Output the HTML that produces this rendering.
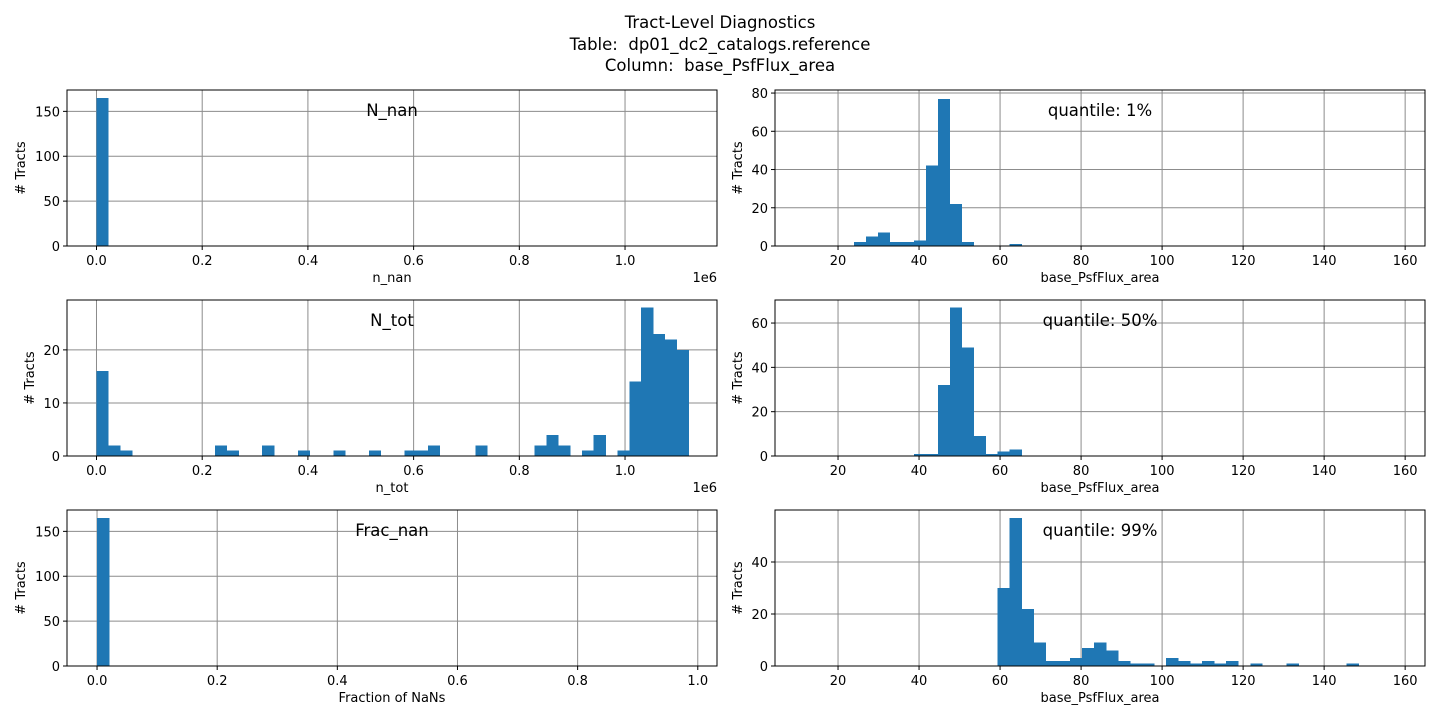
<!DOCTYPE html>
<html><head><meta charset="utf-8">
<style>
html,body{margin:0;padding:0;background:#fff;}
svg{display:block;font-family:"DejaVu Sans","Liberation Sans",sans-serif;}
</style></head>
<body>
<svg id="fig" width="1440" height="720" viewBox="0 0 1440 720">
<rect x="0" y="0" width="1440" height="720" fill="#fff"/>
<g font-size="16.5" text-anchor="middle" fill="#000">
<text x="720" y="28">Tract-Level Diagnostics</text>
<text x="720" y="50">Table:&#160; dp01_dc2_catalogs.reference</text>
<text x="720" y="71">Column:&#160; base_PsfFlux_area</text>
</g>
</svg>
<script>
// ---- data ----
const nNanCounts = [165];
const nNanBinStart = 0, nNanBinWidth = 0.0224;
const nTotCounts = [16,2,1,0,0,0,0,0,0,0,2,1,0,0,2,0,0,1,0,0,1,0,0,1,0,0,1,1,2,0,0,0,2,0,0,0,0,2,4,2,0,1,4,0,1,14,28,23,22,20];
const nTotBinStart = 0, nTotBinWidth = 0.0224;
const fracNanCounts = [165];
const fracNanBinStart = 0, fracNanBinWidth = 0.02;
const q1Counts = [2,5,7,2,2,3,42,77,22,2,0,0,0,1];
const q1BinStart = 23.9, q1BinWidth = 2.96;
const q50Counts = [1,1,32,67,49,9,1,2,3];
const q50BinStart = 38.7, q50BinWidth = 2.96;
const q99Counts = [30,57,22,9,2,2,3,7,9,6,2,1,1,0,3,2,1,2,1,2,0,1,0,0,1,0,0,0,0,1];
const q99BinStart = 59.4, q99BinWidth = 2.97;
const leftXTicks = [0,0.2,0.4,0.6,0.8,1.0];
const leftXTickLabels = ["0.0","0.2","0.4","0.6","0.8","1.0"];
const rightXTicks = [20,40,60,80,100,120,140,160];
const yTicksLeft1 = [0,50,100,150];
const yTicksLeft2 = [0,10,20];
const yTicksR1 = [0,20,40,60,80];
const yTicksR2 = [0,20,40,60];
const yTicksR3 = [0,20,40];

const NS = "http://www.w3.org/2000/svg";
const svg = document.getElementById('fig');
function mk(tag, attrs, parent){
  const e = document.createElementNS(NS, tag);
  for (const k in attrs) e.setAttribute(k, attrs[k]);
  (parent||svg).appendChild(e);
  return e;
}
function panel(cfg){
  const g = mk('g', {});
  
  
  const X = v => cfg.x + (v - cfg.xmin) / (cfg.xmax - cfg.xmin) * cfg.w;
  const Y = v => cfg.y + cfg.h - v / cfg.ymax * cfg.h;
  cfg.xticks.forEach(t => {
    const l = mk('line', {x1:X(t), x2:X(t), y1:cfg.y, y2:cfg.y+cfg.h, stroke:'#8c8c8c', 'stroke-width':1}, g);
    
    
  });
  cfg.yticks.forEach(t => {
    const l = mk('line', {x1:cfg.x, x2:cfg.x+cfg.w, y1:Y(t), y2:Y(t), stroke:'#8c8c8c', 'stroke-width':1}, g);
    
    
  });
  cfg.counts.forEach((c, i) => {
    if (!c) return;
    const x0 = X(cfg.binStart + i * cfg.binWidth), x1 = X(cfg.binStart + (i + 1) * cfg.binWidth);
    const r = mk('rect', {x:x0, y:Y(c), width:x1 - x0 + 0.4, height:Y(0) - Y(c), fill:'#1f77b4', 'shape-rendering':'crispEdges'}, g);
    
    
  });
  const f = mk('rect', {x:cfg.x, y:cfg.y, width:cfg.w, height:cfg.h, fill:'none', stroke:'#000', 'stroke-width':1}, g);
  
  
  cfg.xticks.forEach((t, i) => {
    mk('line', {x1:X(t), x2:X(t), y1:cfg.y+cfg.h, y2:cfg.y+cfg.h+4, stroke:'#000'}, g);
    const tx = mk('text', {x:X(t), y:cfg.y+cfg.h+19, 'font-size':13, 'text-anchor':'middle'}, g);
    tx.textContent = cfg.xlabels ? cfg.xlabels[i] : String(t);
    
    
  });
  cfg.yticks.forEach(t => {
    mk('line', {x1:cfg.x-4, x2:cfg.x, y1:Y(t), y2:Y(t), stroke:'#000'}, g);
    const tx = mk('text', {x:cfg.x-7, y:Y(t)+5, 'font-size':13, 'text-anchor':'end'}, g);
    tx.textContent = String(t);
    
    
  });
  const xl = mk('text', {x:cfg.x + cfg.w/2, y:cfg.y+cfg.h+36, 'font-size':13, 'text-anchor':'middle'}, g);
  xl.textContent = cfg.xtitle;
  
  
  const yl = mk('text', {x:0, y:0, 'font-size':13, 'text-anchor':'middle', transform:`translate(${cfg.ylx},${cfg.y+cfg.h/2}) rotate(-90)`}, g);
  yl.textContent = '# Tracts';
  
  
  const lb = mk('text', {x:cfg.labelX, y:cfg.y+26, 'font-size':16.5, 'text-anchor':'middle'}, g);
  lb.textContent = cfg.label;
  
  
  if (cfg.offset) {
    const o = mk('text', {x:cfg.x+cfg.w, y:cfg.y+cfg.h+36, 'font-size':13, 'text-anchor':'end'}, g);
    o.textContent = cfg.offset;
    
    
  }
}
const LX = 67, RX = 775, W = 650, H = 156;
panel({name:'n-nan-panel', x:LX, y:90, w:W, h:H, xmin:-0.0558, xmax:1.174, ymax:173.8,
  counts:nNanCounts, binStart:nNanBinStart, binWidth:nNanBinWidth,
  xticks:leftXTicks, xlabels:leftXTickLabels, yticks:yTicksLeft1, xtitle:'n_nan', ylx:25, label:'N_nan', labelX:392, offset:'1e6'});
panel({name:'n-tot-panel', x:LX, y:300, w:W, h:H, xmin:-0.0558, xmax:1.174, ymax:29.4,
  counts:nTotCounts, binStart:nTotBinStart, binWidth:nTotBinWidth,
  xticks:leftXTicks, xlabels:leftXTickLabels, yticks:yTicksLeft2, xtitle:'n_tot', ylx:34, label:'N_tot', labelX:392, offset:'1e6'});
panel({name:'frac-nan-panel', x:LX, y:510, w:W, h:H, xmin:-0.05, xmax:1.032, ymax:173.8,
  counts:fracNanCounts, binStart:fracNanBinStart, binWidth:fracNanBinWidth,
  xticks:leftXTicks, xlabels:leftXTickLabels, yticks:yTicksLeft1, xtitle:'Fraction of NaNs', ylx:25, label:'Frac_nan', labelX:392});
panel({name:'quantile-1-panel', x:RX, y:90, w:W, h:H, xmin:4.44, xmax:164.9, ymax:81.6,
  counts:q1Counts, binStart:q1BinStart, binWidth:q1BinWidth,
  xticks:rightXTicks, yticks:yTicksR1, xtitle:'base_PsfFlux_area', ylx:742, label:'quantile: 1%', labelX:1100});
panel({name:'quantile-50-panel', x:RX, y:300, w:W, h:H, xmin:4.44, xmax:164.9, ymax:70.4,
  counts:q50Counts, binStart:q50BinStart, binWidth:q50BinWidth,
  xticks:rightXTicks, yticks:yTicksR2, xtitle:'base_PsfFlux_area', ylx:742, label:'quantile: 50%', labelX:1100});
panel({name:'quantile-99-panel', x:RX, y:510, w:W, h:H, xmin:4.44, xmax:164.9, ymax:60,
  counts:q99Counts, binStart:q99BinStart, binWidth:q99BinWidth,
  xticks:rightXTicks, yticks:yTicksR3, xtitle:'base_PsfFlux_area', ylx:742, label:'quantile: 99%', labelX:1100});
</script>
</body></html>
